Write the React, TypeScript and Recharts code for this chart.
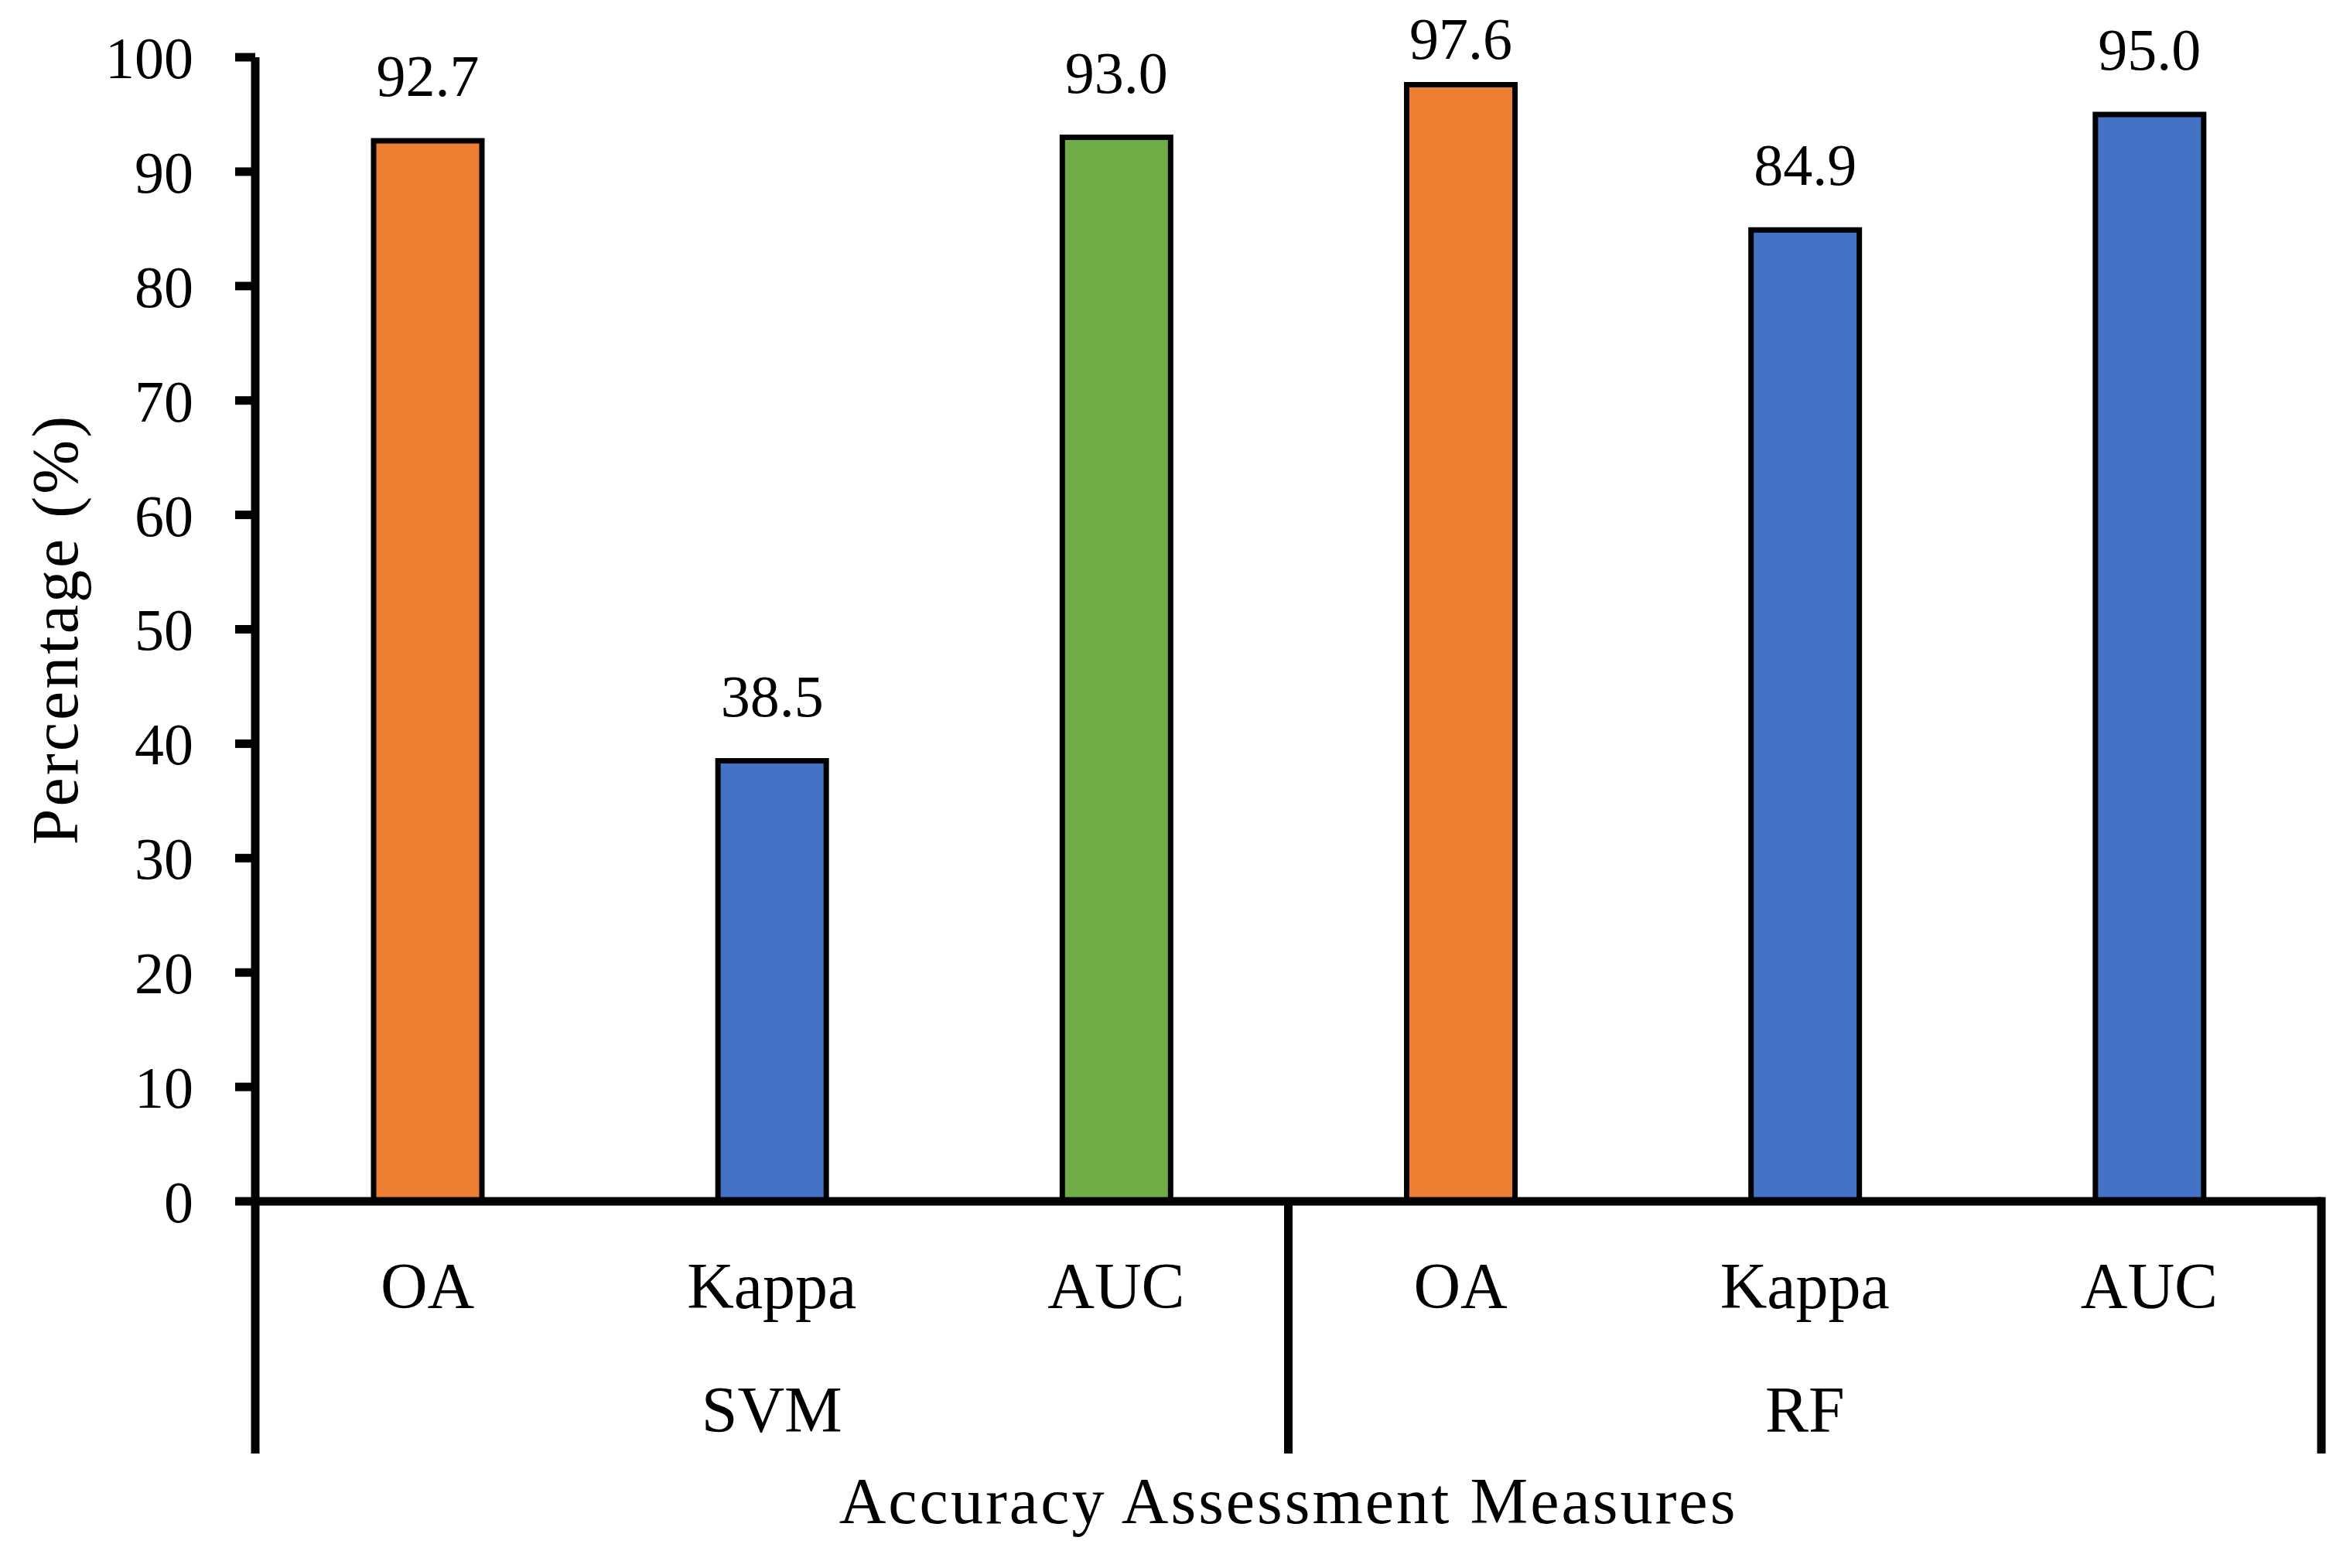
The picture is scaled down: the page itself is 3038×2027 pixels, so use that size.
import { Bar, BarChart, Cell, LabelList, XAxis, YAxis } from "recharts";

const MEASURES = ["OA", "Kappa", "AUC", "OA", "Kappa", "AUC"];
const MODELS = ["SVM", "SVM", "SVM", "RF", "RF", "RF"];
const VALUES = [92.7, 38.5, 93.0, 97.6, 84.9, 95.0];
const Y_TICKS = [0, 10, 20, 30, 40, 50, 60, 70, 80, 90, 100];

const BAR_COLORS = ["#ED7D31", "#4472C4", "#70AD47", "#ED7D31", "#4472C4", "#4472C4"];

const data = MEASURES.map((m, i) => ({ id: i, measure: m, model: MODELS[i], value: VALUES[i] }));

const FONT = "'Liberation Serif', 'Times New Roman', serif";
const LINE = 11;

function MeasureTick(props: any) {
  const { x, y, payload } = props;
  const i = payload.index;
  const half = payload.offset ?? 0;
  const isFirstOfGroup = i === 0 || MODELS[i] !== MODELS[i - 1];
  const isLast = i === data.length - 1;
  const isMiddle = MODELS[i - 1] === MODELS[i] && MODELS[i + 1] === MODELS[i];
  return (
    <g>
      <text x={x} y={y + 138} textAnchor="middle" fontFamily={FONT} fontSize={84} fill="#000">
        {MEASURES[i]}
      </text>
      {isMiddle && (
        <text x={x} y={y + 298} textAnchor="middle" fontFamily={FONT} fontSize={84} fill="#000">
          {MODELS[i]}
        </text>
      )}
      {isFirstOfGroup && (
        <line x1={x - half} x2={x - half} y1={y} y2={y + 326} stroke="#000" strokeWidth={LINE} />
      )}
      {isLast && (
        <line x1={x + half} x2={x + half} y1={y - LINE / 2} y2={y + 326} stroke="#000" strokeWidth={LINE} />
      )}
    </g>
  );
}

function ValueLabel(props: any) {
  const { x, y, width, value } = props;
  const ty = Math.max(y - 58, 68);
  return (
    <text x={x + width / 2} y={ty} textAnchor="middle" fontFamily={FONT} fontSize={76} fill="#000">
      {Number(value).toFixed(1)}
    </text>
  );
}

export default function App() {
  return (
    <div style={{ width: 3022, height: 2011, background: "#fff" }}>
      <BarChart width={3022} height={2011} data={data} margin={{ top: 66, right: 29, bottom: 0, left: 0 }}>
        <XAxis
          dataKey="id"
          height={466}
          tickLine={false}
          tickSize={0}
          tickMargin={0}
          axisLine={{ stroke: "#000", strokeWidth: LINE }}
          tick={<MeasureTick />}
          interval={0}
          label={{
            value: "Accuracy Assessment Measures",
            position: "insideBottom",
            offset: 50,
            fontFamily: FONT,
            fontSize: 84,
            letterSpacing: 3,
            fill: "#000",
          }}
        />
        <YAxis
          width={322}
          domain={[0, 100]}
          ticks={Y_TICKS}
          interval={0}
          tickSize={26}
          tickMargin={54}
          axisLine={{ stroke: "#000", strokeWidth: LINE }}
          tickLine={{ stroke: "#000", strokeWidth: LINE }}
          tick={{ fill: "#000", fontSize: 76, fontFamily: FONT }}
          label={{
            value: "Percentage (%)",
            angle: -90,
            position: "insideLeft",
            offset: 62,
            fontFamily: FONT,
            fontSize: 84,
            letterSpacing: 3,
            fill: "#000",
            style: { textAnchor: "middle" },
          }}
        />
        <Bar dataKey="value" barSize={140} stroke="#000" strokeWidth={7} isAnimationActive={false}>
          {data.map((_, i) => (
            <Cell key={i} fill={BAR_COLORS[i]} />
          ))}
          <LabelList dataKey="value" content={<ValueLabel />} />
        </Bar>
      </BarChart>
    </div>
  );
}
